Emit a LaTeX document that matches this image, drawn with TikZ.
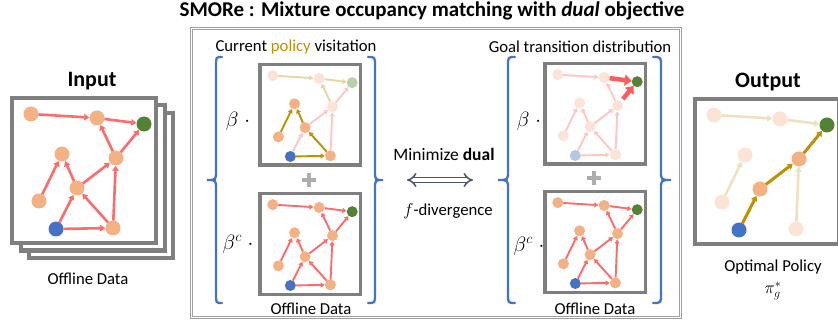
\documentclass[tikz,border=0pt]{standalone}
\usepackage{fontspec}
\setmainfont{Carlito}
\usetikzlibrary{arrows.meta}

\definecolor{peach}{HTML}{F4B183}
\definecolor{peachlt}{HTML}{FBE3D5}
\definecolor{goalg}{HTML}{548235}
\definecolor{goallt}{HTML}{B7CFAA}
\definecolor{startb}{HTML}{4472C4}
\definecolor{startlt}{HTML}{B4C7E7}
\definecolor{edgered}{HTML}{FF6B6B}
\definecolor{edgelt}{HTML}{FFC6C6}
\definecolor{blockred}{HTML}{FF5B5B}
\definecolor{gold}{HTML}{BF9000}
\definecolor{tanlt}{HTML}{E6D6A8}
\definecolor{tanout}{HTML}{EEE2BE}
\definecolor{boxgray}{HTML}{7F7F7F}
\definecolor{framegray}{HTML}{A0A0A0}
\definecolor{plusgray}{HTML}{ADADAD}
\definecolor{bracebl}{HTML}{4472C4}
\definecolor{arrowsl}{HTML}{44546A}

% the nine states of a small transition graph, in box-relative coordinates
\newcommand\gnodes[9]{%
  \node[gn,fill=#1] (n1) at (21,18) {};
  \node[gn,fill=#2] (n2) at (87,22) {};
  \node[gn,fill=#3] (g)  at (134,28) {};
  \node[gn,fill=#4] (n4) at (52,58) {};
  \node[gn,fill=#5] (n5) at (106,62) {};
  \node[gn,fill=#6] (n6) at (67,92) {};
  \node[gn,fill=#7] (n7) at (29,105) {};
  \node[gn,fill=#8] (s)  at (46,133) {};
  \node[gn,fill=#9] (n9) at (103,132) {};}

% all offline transitions in red
\newcommand\redges{%
  \draw[gedge] (n1) -- (n2);
  \draw[gedge] (n2) -- (g);
  \draw[gedge] (n5) -- (n2);
  \draw[gedge] (n5) -- (g);
  \draw[gedge] (n6) -- (n4);
  \draw[gedge] (n7) -- (n4);
  \draw[gedge] (n6) -- (n5);
  \draw[gedge] (s) -- (n6);
  \draw[gedge] (s) -- (n9);
  \draw[gedge] (n9) -- (n6);
  \draw[gedge] (n9) -- (n5);}

\newcommand\stdgraph{%
  \gnodes{peach}{peach}{goalg}{peach}{peach}{peach}{peach}{startb}{peach}%
  \redges}

% curly brace: end x, spine x, tip x
\newcommand\drawbrace[3]{%
  \draw[bracestyle] (#1,57) .. controls (#2,57) .. (#2,66) -- (#2,171)
    .. controls (#2,180) .. (#3,180)
    .. controls (#2,180) .. (#2,189) -- (#2,294)
    .. controls (#2,303) .. (#1,303);}

\begin{document}
\begin{tikzpicture}[x=1pt,y=-1pt,
  gn/.style={circle,inner sep=0pt,outer sep=0pt,minimum size=15pt,draw=none},
  gedge/.style={draw=edgered,line width=2.6pt,-{Triangle[length=5pt,width=6.5pt]},shorten >=0.3pt},
  bigbox/.style={draw=boxgray,line width=4pt,fill=white},
  smallbox/.style={draw=boxgray,line width=3.5pt,fill=white},
  smallgraph/.style={scale=0.703,
    gn/.append style={minimum size=11pt},
    gedge/.append style={line width=1.9pt,-{Triangle[length=4pt,width=5pt]}}},
  bracestyle/.style={draw=bracebl,line width=2.3pt,line cap=round},
  plusbar/.style={draw=plusgray,line width=4.5pt},
  lbl/.style={font=\fontsize{16.7}{20}\selectfont,inner sep=0pt},
  hdr/.style={font=\fontsize{22}{26}\selectfont\bfseries,inner sep=0pt},
  coef/.style={font=\fontsize{20.5}{24}\selectfont,inner sep=0pt}]
\useasboundingbox (0,0) rectangle (838,323);

% title
\node[font=\fontsize{21}{25}\selectfont\bfseries,inner sep=0pt] (title) at (432,11)
  {SMORe : Mixture occupancy matching with \textit{dual} objective};

% ---------------- input: stack of offline datasets ----------------
\node[hdr] (inhdr) at (92,81) {Input};
\draw[bigbox] (29,113) rectangle (173,258);
\draw[bigbox] (20.5,105.5) rectangle (164.5,250.5);
\draw[bigbox] (12,98) rectangle (156,243);
\begin{scope}[shift={(10,96)},name prefix=in-]
  \stdgraph
\end{scope}
\node[lbl] (inlbl) at (88,279) {Offline Data};

% ---------------- central frame ----------------
\draw[framegray,line width=0.7pt,double=white,double distance=1.4pt]
  (191.5,28.5) rectangle (680.5,317.5);

% left half: current policy visitation
\node[lbl] (curlbl) at (296,47) {Current \textcolor{gold}{policy} visitation};
\drawbrace{222}{216}{207}
\drawbrace{368}{375}{383}
\node[coef] (cb1) at (238,121) {$\beta\;\cdot$};
\node[coef] (cb2) at (238,244) {$\beta^{c}\;\cdot$};
\draw[smallbox] (259.75,64.75) rectangle (360.25,165.25);
\begin{scope}[shift={(258,63)},smallgraph,name prefix=cp-]
  \gnodes{peachlt}{peachlt}{goallt}{peach}{peachlt}{peach}{peach}{startb}{peach}
  \draw[gedge,tanlt] (n1) -- (n2);
  \draw[gedge,tanlt] (n2) -- (g);
  \draw[gedge,tanlt] (n5) -- (n2);
  \draw[gedge,edgelt] (n5) -- (g);
  \draw[gedge,edgelt] (n6) -- (n5);
  \draw[gedge,edgelt] (s) -- (n6);
  \draw[gedge,edgelt] (n9) -- (n5);
  \draw[gedge,gold] (n6) -- (n4);
  \draw[gedge,gold] (n7) -- (n4);
  \draw[gedge,gold] (s) -- (n9);
  \draw[gedge,gold] (n9) -- (n6);
\end{scope}
\coordinate (cpl) at (302,180);
\coordinate (cpr) at (316,180);
\coordinate (cpt) at (309,173);
\coordinate (cpb) at (309,187);
\draw[plusbar] (cpl) -- (cpr);
\draw[plusbar] (cpt) -- (cpb);
\draw[smallbox] (259.75,193.75) rectangle (360.25,294.25);
\begin{scope}[shift={(258,192)},smallgraph,name prefix=co-]
  \stdgraph
\end{scope}
\node[lbl] (colbl) at (311,309) {Offline Data};

% middle: dual objective
\node[lbl,font=\fontsize{17.5}{21}\selectfont] (minlbl) at (444,154) {Minimize \textbf{dual}};
\coordinate (dl) at (407,180);
\coordinate (dr) at (473,180);
\draw[arrowsl,line width=1.5pt,double=white,double distance=3.2pt,{Implies}-{Implies}] (dl) -- (dr);
\node[lbl] (divlbl) at (448,211) {$f$-divergence};

% right half: goal transition distribution
\node[lbl] (goallbl) at (580,47) {Goal transition distribution};
\drawbrace{515}{508}{498}
\drawbrace{653}{661}{671}
\node[coef] (gb1) at (529,121) {$\beta\;\cdot$};
\node[coef] (gb2) at (529,246) {$\beta^{c}\;\cdot$};
\draw[smallbox] (544.75,63.75) rectangle (645.25,164.25);
\begin{scope}[shift={(543,62)},smallgraph,name prefix=gt-]
  \gnodes{peachlt}{peachlt}{goalg}{peachlt}{peachlt}{peachlt}{peachlt}{startlt}{peachlt}
  \draw[gedge,edgelt] (n1) -- (n2);
  \draw[gedge,edgelt] (n5) -- (n2);
  \draw[gedge,edgelt] (n6) -- (n4);
  \draw[gedge,edgelt] (n7) -- (n4);
  \draw[gedge,edgelt] (n6) -- (n5);
  \draw[gedge,edgelt] (s) -- (n6);
  \draw[gedge,edgelt] (s) -- (n9);
  \draw[gedge,edgelt] (n9) -- (n6);
  \draw[gedge,edgelt] (n9) -- (n5);
  \draw[blockred,line width=4.5pt,-{Triangle[length=7pt,width=11pt]}] (n2) -- (g);
  \draw[blockred,line width=4.5pt,-{Triangle[length=7pt,width=11pt]},shorten <=3pt] (n5) -- (g);
\end{scope}
\coordinate (gpl) at (587,178);
\coordinate (gpr) at (601,178);
\coordinate (gpt) at (594,171);
\coordinate (gpb) at (594,185);
\draw[plusbar] (gpl) -- (gpr);
\draw[plusbar] (gpt) -- (gpb);
\draw[smallbox] (544.75,191.75) rectangle (645.25,292.25);
\begin{scope}[shift={(543,190)},smallgraph,name prefix=go-]
  \stdgraph
\end{scope}
\node[lbl] (golbl) at (595,309) {Offline Data};

% ---------------- output: optimal policy ----------------
\node[hdr] (outhdr) at (768,82) {Output};
\draw[bigbox] (695,99) rectangle (839,244);
\begin{scope}[shift={(693,97)},name prefix=op-]
  \gnodes{peachlt}{peachlt}{goalg}{peachlt}{peach}{peach}{peachlt}{startb}{peachlt}
  \draw[gedge,tanout] (n1) -- (n2);
  \draw[gedge,tanout] (n2) -- (g);
  \draw[gedge,tanout] (n7) -- (n4);
  \draw[gedge,tanout] (n9) -- (n5);
  \draw[gedge,gold,line width=3pt] (s) -- (n6);
  \draw[gedge,gold,line width=3pt] (n6) -- (n5);
  \draw[gedge,gold,line width=3pt] (n5) -- (g);
\end{scope}
\node[lbl] (outlbl) at (773,267) {Optimal Policy};
\node[coef,font=\fontsize{18}{21}\selectfont] (pilbl) at (773,291) {$\pi_g^{*}$};
\end{tikzpicture}
\end{document}
